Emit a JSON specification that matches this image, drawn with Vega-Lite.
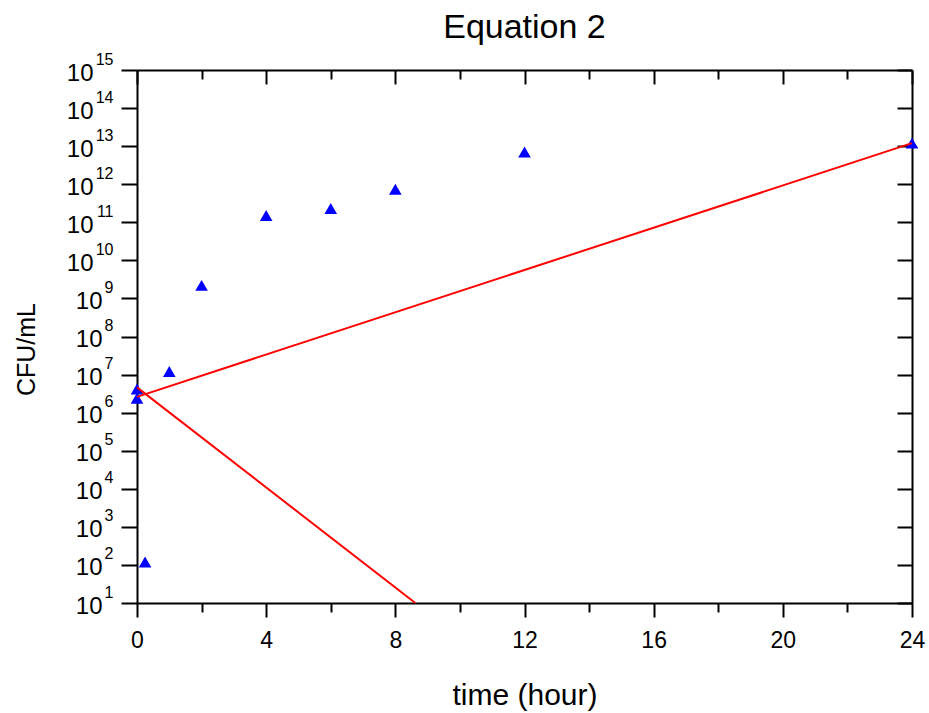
{
  "$schema": "https://vega.github.io/schema/vega-lite/v6.json",
  "width": 775,
  "height": 533,
  "autosize": {"type": "none"},
  "padding": {"left": 137, "top": 70, "right": 17, "bottom": 110},
  "background": "white",
  "config": {
    "view": {"stroke": null},
    "font": "Liberation Sans",
    "axis": {
      "grid": false,
      "domainColor": "black",
      "domainWidth": 2,
      "tickColor": "black",
      "tickWidth": 2,
      "labelColor": "black",
      "titleColor": "black",
      "labelFont": "Liberation Sans",
      "titleFont": "Liberation Sans",
      "titleFontWeight": "normal"
    }
  },
  "title": {
    "text": "Equation 2",
    "fontSize": 34,
    "font": "Liberation Sans",
    "fontWeight": "normal",
    "color": "black",
    "anchor": "middle",
    "baseline": "alphabetic",
    "offset": 4,
    "dy": 25
  },
  "datasets": {
    "points": [
      {"t": 0, "cfu": 4200000},
      {"t": 0, "cfu": 2400000},
      {"t": 0.25, "cfu": 120},
      {"t": 1, "cfu": 12000000},
      {"t": 2, "cfu": 2200000000},
      {"t": 4, "cfu": 150000000000},
      {"t": 6, "cfu": 230000000000},
      {"t": 8, "cfu": 740000000000},
      {"t": 12, "cfu": 7000000000000},
      {"t": 24, "cfu": 12000000000000}
    ],
    "growth": [
      {"t": 0, "cfu": 2600000},
      {"t": 24, "cfu": 12000000000000}
    ],
    "death": [
      {"t": 0, "cfu": 4600000},
      {"t": 8.62, "cfu": 10}
    ]
  },
  "layer": [
    {
      "data": {"name": "points"},
      "mark": {"type": "point", "shape": "triangle-up", "filled": true, "color": "#0000ff", "size": 160, "opacity": 1},
      "encoding": {
        "x": {
          "field": "t", "type": "quantitative",
          "scale": {"domain": [0, 24], "nice": false, "zero": false},
          "axis": {
            "orient": "bottom",
            "values": [0, 2, 4, 6, 8, 10, 12, 14, 16, 18, 20, 22, 24],
            "labelExpr": "datum.value % 4 === 0 ? datum.label : ''",
            "tickSize": {"condition": {"test": "datum.value % 4 === 0", "value": 14}, "value": 9},
            "labelFontSize": 23,
            "labelPadding": 12,
            "labelFlush": false,
            "labelOverlap": false,
            "title": "time (hour)",
            "titleFontSize": 30,
            "titleBaseline": "alphabetic",
            "titleY": 101
          }
        },
        "y": {
          "field": "cfu", "type": "quantitative",
          "scale": {"type": "log", "domain": [10, 1000000000000000], "nice": false},
          "axis": {
            "orient": "left",
            "values": [10, 100, 1000, 10000, 100000, 1000000, 10000000, 100000000, 1000000000, 10000000000, 100000000000, 1000000000000, 10000000000000, 100000000000000, 1000000000000000],
            "labelExpr": "'10'",
            "labelFontSize": 24,
            "tickSize": 16,
            "labelPadding": {"condition": {"test": "datum.value >= 10000000000", "value": 28}, "value": 19},
            "labelOffset": 3,
            "labelFlush": false,
            "labelOverlap": false,
            "title": "CFU/mL",
            "titleFontSize": 25,
            "titleAngle": -90,
            "titleBaseline": "middle",
            "titleAlign": "center",
            "titleX": -111,
            "titleY": 279
          }
        }
      }
    },
    {
      "data": {"name": "growth"},
      "mark": {"type": "line", "color": "#ff0000", "strokeWidth": 2},
      "encoding": {
        "x": {
          "field": "t", "type": "quantitative",
          "scale": {"domain": [0, 24], "nice": false, "zero": false},
          "axis": {
            "orient": "top",
            "values": [0, 2, 4, 6, 8, 10, 12, 14, 16, 18, 20, 22, 24],
            "tickSize": {"condition": {"test": "datum.value % 4 === 0", "value": -14}, "value": -9},
            "labels": false,
            "title": null
          }
        },
        "y": {
          "field": "cfu", "type": "quantitative",
          "scale": {"type": "log", "domain": [10, 1000000000000000], "nice": false},
          "axis": {
            "orient": "right",
            "values": [10, 100, 1000, 10000, 100000, 1000000, 10000000, 100000000, 1000000000, 10000000000, 100000000000, 1000000000000, 10000000000000, 100000000000000, 1000000000000000],
            "tickSize": -15,
            "labels": false,
            "title": null
          }
        }
      }
    },
    {
      "data": {"name": "death"},
      "mark": {"type": "line", "color": "#ff0000", "strokeWidth": 2},
      "encoding": {
        "x": {
          "field": "t", "type": "quantitative",
          "scale": {"domain": [0, 24], "nice": false, "zero": false},
          "axis": null
        },
        "y": {
          "field": "cfu", "type": "quantitative",
          "scale": {"type": "log", "domain": [10, 1000000000000000], "nice": false},
          "axis": {
            "orient": "left",
            "values": [10, 100, 1000, 10000, 100000, 1000000, 10000000, 100000000, 1000000000, 10000000000, 100000000000, 1000000000000, 10000000000000, 100000000000000, 1000000000000000],
            "labelExpr": "'' + round(log(datum.value) / LN10)",
            "labelFontSize": 16,
            "ticks": false,
            "domain": false,
            "labelPadding": 24,
            "labelOffset": -11,
            "labelFlush": false,
            "labelOverlap": false,
            "title": null
          }
        }
      }
    }
  ],
  "resolve": {"axis": {"x": "independent", "y": "independent"}}
}
